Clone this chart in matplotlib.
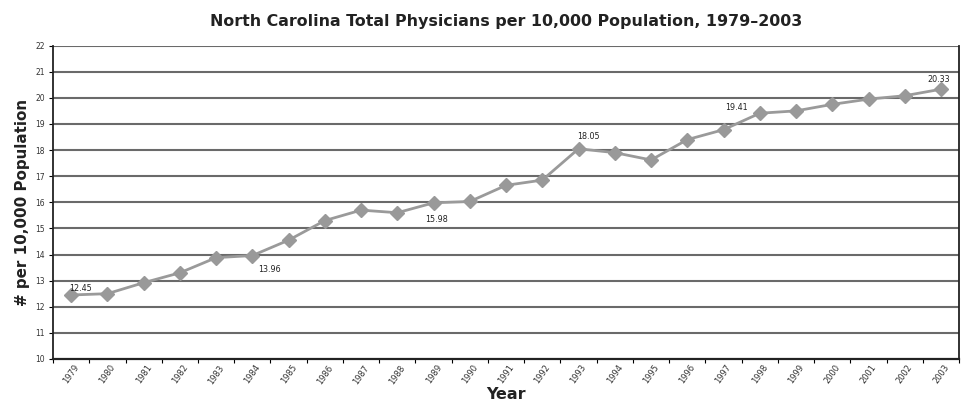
import matplotlib
matplotlib.use("Agg")
import matplotlib.pyplot as plt
import numpy as np

plt.rcParams['font.family'] = ['DejaVu Sans']

years = [str(y) for y in range(1979, 2004)]
physicians = [12.45, 12.50, 12.92, 13.30, 13.88, 13.96, 14.55, 15.30, 15.70,
              15.60, 15.98, 16.03, 16.65, 16.85, 18.05, 17.90, 17.62, 18.40,
              18.78, 19.41, 19.50, 19.75, 19.95, 20.08, 20.33]

# labelled points: year -> (dx, dy) offset of the label in points
labelled = {"1979": (7, 5), "1984": (12, -10), "1989": (2, -12),
            "1993": (7, 9), "1998": (-17, 4), "2003": (-2, 7)}

y_ticks = list(range(10, 23))

fig = plt.figure(figsize=(9.64, 4.07), dpi=100)
ax = fig.add_axes([0.055, 0.118, 0.94, 0.770])

x = np.arange(len(years))
ax.set_xlim(-0.5, len(years) - 0.5)
ax.set_ylim(10, 22)

for v in y_ticks[1:]:
    ax.axhline(v, color='#6a6a6a', lw=1.5, zorder=1)

ax.plot(x, physicians, color='#9a9a9a', lw=2.0, marker='D', markersize=7,
        markerfacecolor='#999999', markeredgecolor='#999999', zorder=3)

for yr, (dx, dy) in labelled.items():
    i = years.index(yr)
    ax.annotate(f"{physicians[i]:.2f}", (x[i], physicians[i]),
                xytext=(dx, dy), textcoords='offset points',
                ha='center', va='center', fontsize=5.8, color='#222222',
                zorder=4)

ax.set_yticks(y_ticks)
ax.set_yticklabels([str(v) for v in y_ticks], fontsize=5.5, color='#333333')
ax.set_xticks(x)
ax.set_xticklabels(years, fontsize=6, rotation=55, ha='center', va='top',
                   color='#333333')
ax.tick_params(axis='x', length=0, pad=3)
ax.set_xticks(np.arange(-0.5, len(years)), minor=True)
ax.tick_params(axis='x', which='minor', length=3, width=0.8, direction='out')
ax.tick_params(axis='y', length=3, width=0.8, direction='out', pad=3)

for side in ['left', 'bottom', 'right']:
    ax.spines[side].set_color('#222222')
ax.spines['left'].set_linewidth(1.3)
ax.spines['bottom'].set_linewidth(1.6)
ax.spines['right'].set_linewidth(1.3)
ax.spines['top'].set_visible(False)

ax.set_xlabel('Year', fontsize=11.5, fontweight='bold', labelpad=1, color='#222222')
ax.set_ylabel('# per 10,000 Population', fontsize=10.9, fontweight='bold',
              labelpad=4, color='#222222')
ax.set_title('North Carolina Total Physicians per 10,000 Population, 1979\u20132003',
             fontsize=11.4, fontweight='bold', pad=14, color='#222222')

fig.savefig('out.png', dpi=100)
